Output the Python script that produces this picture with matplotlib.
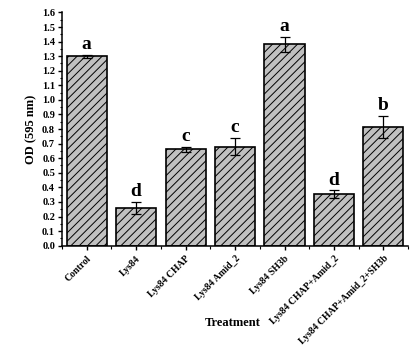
import matplotlib
matplotlib.use('Agg')
import matplotlib.pyplot as plt
from matplotlib.ticker import MultipleLocator, FixedLocator

treatments = ['Control', 'Lys84', 'Lys84 CHAP', 'Lys84 Amid_2', 'Lys84 SH3b',
              'Lys84 CHAP+Amid_2', 'Lys84 CHAP+Amid_2+SH3b']
od_values = [1.30, 0.26, 0.66, 0.68, 1.38, 0.355, 0.815]
od_errors = [0.01, 0.04, 0.02, 0.06, 0.05, 0.025, 0.075]
groups = ['a', 'd', 'c', 'c', 'a', 'd', 'b']

plt.rcParams['font.family'] = ['Liberation Serif', 'DejaVu Serif']
plt.rcParams['font.weight'] = 'bold'
plt.rcParams['hatch.linewidth'] = 0.7

fig = plt.figure(figsize=(4.19, 3.55), dpi=100)
ax = fig.add_axes([0.148, 0.308, 0.826, 0.657])

x = list(range(len(treatments)))
ax.bar(x, od_values, width=0.81, color='#c0c0c0', edgecolor='black',
       linewidth=1.2, hatch='////')
ax.errorbar(x, od_values, yerr=od_errors, fmt='none', ecolor='black',
            elinewidth=0.9, capsize=3.6, capthick=0.9)

for xi, v, e, g in zip(x, od_values, od_errors, groups):
    ax.text(xi, v + e + 0.012, g, ha='center', va='bottom',
            fontsize=14, fontweight='bold')

ax.set_xlim(-0.5, 6.5)
ax.set_ylim(0, 1.6)
ax.yaxis.set_major_locator(MultipleLocator(0.1))
ax.yaxis.set_minor_locator(MultipleLocator(0.05))
ax.xaxis.set_minor_locator(FixedLocator([i + 0.5 for i in range(-1, 7)]))
ax.set_xticks(x)
ax.set_xticklabels(treatments, rotation=45, ha='right',
                   rotation_mode='anchor', fontsize=7, fontweight='bold')
ax.tick_params(axis='y', labelsize=7.5, length=3, width=1, pad=2)
ax.tick_params(axis='y', which='minor', length=1.8, width=0.8)
ax.tick_params(axis='x', length=3, width=1, pad=3)
ax.tick_params(axis='x', which='minor', length=1.8, width=0.8)
for lbl in ax.get_yticklabels():
    lbl.set_fontweight('bold')

ax.spines['top'].set_visible(False)
ax.spines['right'].set_visible(False)
ax.spines['left'].set_linewidth(1.1)
ax.spines['bottom'].set_linewidth(1.1)

ax.set_ylabel('OD (595 nm)', fontsize=9, fontweight='bold', labelpad=3)
fig.text(0.555, 0.09, 'Treatment', ha='center', va='center',
         fontsize=9, fontweight='bold')

fig.savefig('out.png', dpi=100)
